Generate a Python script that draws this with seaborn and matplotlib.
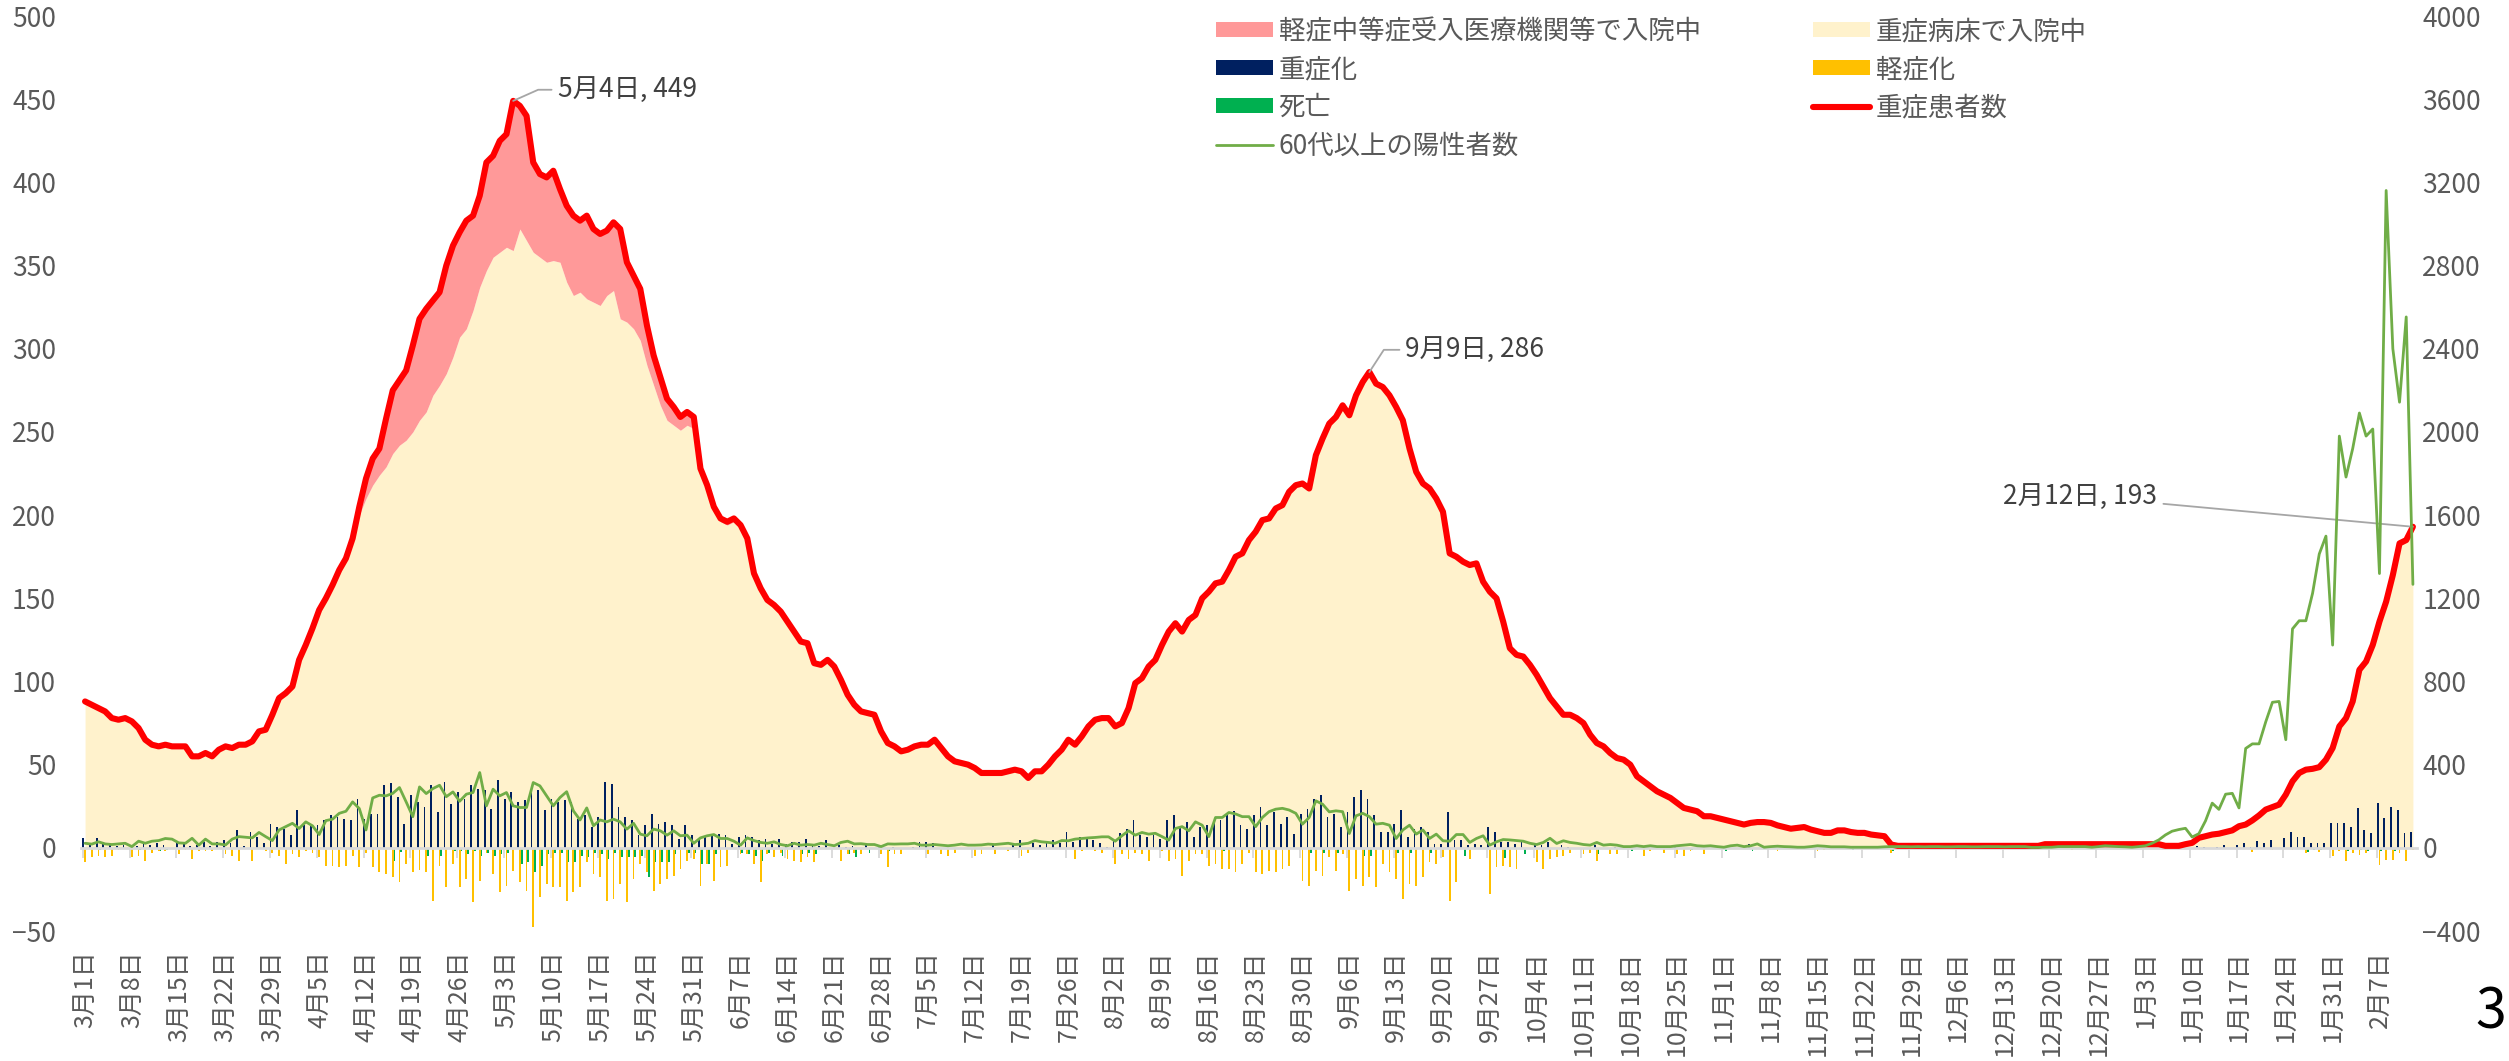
import numpy as np
import pandas as pd
import matplotlib
matplotlib.use("Agg")
import matplotlib.pyplot as plt
import seaborn as sns
from matplotlib.patches import Patch
from matplotlib.lines import Line2D

# ---- data (daily, 2021-03-01 .. 2022-02-12) ----
start_date = "2021-03-01"
end_date = "2022-02-12"

# 重症患者数 (total, left axis)
severe_total = [
    88, 86, 84, 82, 78, 77, 78, 76, 72, 65,
    62, 61, 62, 61, 61, 61, 55, 55, 57, 55,
    59, 61, 60, 62, 62, 64, 70, 71, 80, 90,
    93, 97, 113, 122, 132, 143, 150, 158, 167, 174,
    186, 205, 222, 234, 240, 258, 275, 281, 287, 302,
    318, 324, 329, 334, 350, 362, 370, 377, 380, 392,
    412, 416, 425, 429, 449, 446, 440, 412, 405, 403,
    407, 396, 386, 380, 377, 380, 372, 369, 371, 376,
    372, 352, 344, 336, 314, 296, 283, 270, 265, 259,
    262, 259, 228, 218, 205, 198, 196, 198, 194, 186,
    165, 156, 149, 146, 142, 136, 130, 124, 123, 111,
    110, 113, 109, 101, 92, 86, 82, 81, 80, 70,
    63, 61, 58, 59, 61, 62, 62, 65, 60, 55,
    52, 51, 50, 48, 45, 45, 45, 45, 46, 47,
    46, 42, 46, 46, 50, 55, 59, 65, 62, 67,
    73, 77, 78, 78, 73, 75, 84, 99, 102, 109,
    113, 122, 130, 135, 130, 137, 140, 150, 154, 159,
    160, 167, 175, 177, 185, 190, 197, 198, 204, 206,
    214, 218, 219, 216, 236, 246, 255, 259, 266, 260,
    272, 280, 286, 279, 277, 272, 265, 257, 240, 226,
    219, 216, 210, 202, 177, 175, 172, 170, 171, 160,
    154, 150, 136, 120, 116, 115, 110, 104, 97, 90,
    85, 80, 80, 78, 75, 68, 63, 61, 57, 54,
    53, 50, 43, 40, 37, 34, 32, 30, 27, 24,
    23, 22, 19, 19, 18, 17, 16, 15, 14, 15,
    15.5, 15.5, 15, 13.5, 12.5, 11.5, 12, 12.5, 11, 10,
    9, 9, 10.5, 10.5, 9.5, 9, 9, 8, 7.5, 7,
    2, 1.2, 1.2, 1.2, 1.2, 1.2, 1.2, 1.2, 1.2, 1.2,
    1.2, 1.2, 1.2, 1.2, 1.2, 1.2, 1.2, 1.2, 1.2, 1.2,
    1.2, 1.2, 1.2, 2.2, 2.2, 2.2, 2.2, 2.2, 2.2, 2.2,
    2.2, 2.2, 2.2, 2.2, 2.2, 2.2, 2.2, 2.2, 2.2, 2.2,
    2.2, 1.2, 1.2, 1.2, 2.2, 3, 6, 7, 8, 8.5,
    9.5, 10.5, 13, 14, 16.5, 19.5, 23, 24.5, 26, 32,
    40, 45, 47, 47.5, 48.5, 53, 60, 73, 78, 88,
    107, 112, 122, 136, 148, 164, 183, 185, 193,
]

# 軽症中等症受入医療機関等で入院中 (upper stacked area)
mild_ward = [
    0, 0, 0, 0, 0, 0, 0, 0, 0, 0,
    0, 0, 0, 0, 0, 0, 0, 0, 0, 0,
    0, 0, 0, 0, 0, 0, 0, 0, 0, 0,
    0, 0, 0, 0, 0, 0, 0, 0, 0, 0,
    0, 5, 12, 16, 16, 29, 38, 39, 42, 52,
    61, 62, 57, 56, 65, 67, 63, 65, 57, 55,
    65, 61, 67, 68, 90, 74, 75, 54, 50, 51,
    54, 44, 46, 48, 43, 50, 44, 43, 39, 41,
    54, 36, 32, 31, 24, 18, 17, 13, 11, 8,
    8, 7, 2, 2, 2, 2, 2, 2, 2, 2,
    1, 0, 0, 0, 0, 0, 0, 0, 0, 0,
    0, 0, 0, 0, 0, 0, 0, 0, 0, 0,
    0, 0, 0, 0, 0, 0, 0, 0, 0, 0,
    0, 0, 0, 0, 0, 0, 0, 0, 0, 0,
    0, 0, 0, 0, 0, 0, 0, 0, 0, 0,
    0, 0, 0, 0, 0, 0, 0, 0, 0, 0,
    0, 0, 0, 0, 0, 0, 0, 0, 0, 0,
    0, 0, 0, 0, 0, 0, 0, 0, 0, 0,
    0, 0, 0, 0, 0, 0, 0, 0, 0, 0,
    0, 0, 0, 0, 0, 0, 0, 0, 0, 0,
    0, 0, 0, 0, 0, 0, 0, 0, 0, 0,
    0, 0, 0, 0, 0, 0, 0, 0, 0, 0,
    0, 0, 0, 0, 0, 0, 0, 0, 0, 0,
    0, 0, 0, 0, 0, 0, 0, 0, 0, 0,
    0, 0, 0, 0, 0, 0, 0, 0, 0, 0,
    0, 0, 0, 0, 0, 0, 0, 0, 0, 0,
    0, 0, 0, 0, 0, 0, 0, 0, 0, 0,
    1.2, 1.2, 1.2, 1.2, 1.2, 1.2, 1.2, 1.2, 1.2, 1.2,
    1.2, 1.2, 1.2, 1.2, 1.2, 1.2, 1.2, 1.2, 1.2, 1.2,
    1.2, 1.2, 1.2, 1.2, 1.2, 1.2, 1.2, 1.2, 1.2, 1.2,
    1.2, 1.2, 1.2, 1.2, 1.2, 1.2, 1.2, 1.2, 1.2, 1.2,
    1.2, 1.2, 1.2, 1.2, 1.2, 0, 0, 0, 0, 0,
    0, 0, 0, 0, 0, 0, 0, 0, 0, 0,
    0, 0, 0, 0, 0, 0, 0, 0, 0, 0,
    0, 0, 0, 0, 0, 0, 0, 0, 0,
]

# 重症化 (bars up)
became_severe = [
    6, 1.6, 6, 3.6, 1.6, 1, 1.6, 0, 1, 3,
    1.6, 3, 1.6, 0, 3.6, 3, 1, 1.6, 3.6, 1,
    3.6, 4.6, 3, 10.6, 1, 9.8, 6.8, 3, 14.6, 12.8,
    11.6, 7.8, 22.8, 13.6, 14.6, 13.6, 16.6, 19.6, 18.8, 17.6,
    16.8, 29.6, 17.6, 20.6, 20.6, 37.6, 38.8, 30.6, 14.6, 31.6,
    27.6, 24.6, 37.6, 21.6, 39.6, 26.6, 33.6, 29.6, 37.6, 35.6,
    34.6, 23.6, 40.6, 29.6, 33.6, 27.6, 28.6, 35, 34.6, 22.6,
    29.6, 27.6, 28.6, 27.6, 17.6, 19.6, 12.6, 18.6, 39.6, 38.6,
    24.6, 18.6, 16.6, 7.6, 13.6, 20.6, 14.6, 15.6, 13.6, 5.6,
    13.6, 7.6, 4.6, 6.6, 7.6, 8.6, 7.6, 2.6, 6.6, 7.6,
    6.6, 4.6, 5.6, 2.6, 5.6, 2.6, 3.6, 3.6, 5.6, 1.6,
    1, 4.6, 0, 1.6, 0.8, 1, 0, 1.6, 0, 0.8,
    0, 0.8, 0, 0, 0.8, 3.8, 3.8, 2.8, 0, 0,
    0, 0, 0, 0, 0, 0, 1.6, 0, 0, 1.6,
    4.8, 0, 3.2, 1.6, 3.6, 4.8, 3.2, 9.8, 3.6, 6.8,
    5.6, 4.8, 2.8, 0.8, 5.6, 8.8, 11.6, 16.8, 7.6, 6.8,
    7.6, 5.6, 16.8, 19.6, 12.8, 15.6, 6.8, 12.8, 13.6, 14.8,
    16.8, 19.6, 22, 13.6, 11.6, 19.6, 24.6, 13.6, 21.6, 14.6,
    18.6, 8.6, 20.6, 23.6, 29.6, 31.6, 18.6, 20.6, 12.8, 21.6,
    30.6, 34.6, 29.6, 19.6, 9.6, 9.6, 14.6, 22.6, 6.6, 11.6,
    12.6, 9.6, 2.6, 2.6, 21.6, 4.6, 4.6, 1.6, 2.6, 1.6,
    12.6, 9.6, 3.6, 3.6, 2.6, 4.6, 0, 2.6, 1.6, 3.6,
    0, 1.6, 0.8, 0, 0, 0, 1.6, 0, 0, 0.8,
    0, 0, 0, 0, 0, 0, 0, 0, 1.6, 0,
    0, 0, 0, 0, 0, 0, 0, 0, 0, 2.6,
    0, 0, 0, 0, 0, 0, 0, 0, 0, 0,
    0, 0, 0, 0, 0, 0, 0, 0, 0, 0,
    0, 0, 0, 0, 0, 0, 0, 0, 0, 0,
    0, 0, 0, 0, 0, 0, 0, 0, 0, 0,
    0, 0, 0, 0, 0, 0, 0, 0, 0, 0,
    0, 0, 0, 0, 0, 0, 0, 0, 0, 0,
    0, 0, 0, 0, 0, 0, 1.2, 0.8, 0, 0.8,
    2, 0, 2, 2.8, 0.8, 4, 2.8, 4.8, 0, 5.8,
    9.8, 6.8, 6.8, 2.8, 2.8, 2.8, 14.8, 14.8, 14.8, 12.8,
    23.8, 10.8, 8.8, 26.8, 17.8, 24.8, 22.8, 8.8, 9.8,
]

# 軽症化 (bars down)
became_mild = [
    -8.8, -5.8, -4.8, -5.8, -4.8, -1.2, 0, -5.8, -5.2, -8,
    -2.8, -1.8, -1.8, 0, -3.8, -1.2, -6.8, -1.8, -1.8, -1.8,
    -0.8, -3.8, -4.8, -8, -0.8, -8, 0, -1.8, -2.8, -4.8,
    -10, -3.8, -5.8, -1.8, -2.8, -5.8, -10.8, -11.2, -11.8, -10.8,
    -4.8, -11.8, -2.8, -11.8, -14.8, -15.8, -17.8, -20.8, -10, -14.8,
    -13.2, -14.8, -31.8, -10.8, -23.8, -10, -23.8, -18.8, -32.8, -19.8,
    -3, -15.8, -26.8, -22.8, -13.8, -20.8, -25.8, -47.8, -29.8, -21.8,
    -23.8, -23.8, -31.8, -26.8, -23.8, -8.8, -15.8, -17.8, -31.8, -30.8,
    -21.8, -32.8, -18.8, -9.8, -14.8, -25.8, -21.8, -18.8, -16.8, -12.8,
    -7.8, -6.8, -22.8, -9.8, -19.8, -11.8, -10.8, 0, -3.8, -3.8,
    -9.8, -20.8, -3.8, -5.8, -2.8, -6.8, -7.8, -8.8, -5.8, -8.8,
    0, 0, 0, -7.8, -3.8, -2.8, -3.8, 0, 0, -3.8,
    -11.8, -3.8, -3.8, 0, 0, 0, -3.8, 0, -3.8, -4.8,
    -2.8, 0, 0, -4.8, -3.8, 0, -3.8, 0, -1.8, 0,
    -4.8, -2.8, -0.8, 0, 0, 0, 0, 0, -6.8, -1.8,
    0, -1.8, -2.8, 0, -9.8, -3.8, -6.8, -2.8, -3.8, -7.8,
    0, -1.8, -7.8, -6.8, -16.8, -7.8, -3.8, -3.8, -10.8, -9.8,
    -12.8, -12.8, -14.4, -9.8, -2.8, -14.8, -15.8, -13.8, -14.8, -12.8,
    -10.8, 0, -19.8, -22.8, -13.8, -16.8, -5.8, -13.8, -3.8, -25.8,
    -18.8, -22.8, -17.8, -23.8, -9.8, -14.8, -18.8, -30.8, -21.8, -22.8,
    -17.8, -8.8, -9.8, -5.8, -31.8, -20.8, 0, -6.8, 0, 0,
    -27.8, -11.8, -10.8, -11.8, -12.8, 0, 0, -8.8, -12.8, -6.8,
    -5.8, -4.8, -2.8, 0, -3.8, -2.8, -7.8, 0, -3.8, -3.8,
    0, 0, 0, -4.8, -1.8, 0, -2.8, 0, -3.8, -5.2,
    -1.8, 0, -3.8, 0, 0, 0, -0.8, 0, 0, 0,
    0, 0, 0, -1.8, 0, 0, 0, 0, 0, -1.8,
    -1.2, 0, 0, 0, 0, 0, 0, 0, 0, 0,
    -2.8, 0, 0, 0, 0, 0, 0, 0, 0, 0,
    0, 0, 0, 0, 0, 0, 0, 0, 0, 0,
    0, 0, 0, 0, 0, 0, 0, -1, 0, 0,
    0, 0, 0, 0, 0, 0, 0, 0, 0, 0,
    0, 0, 0, 0, 0, 0, 0, 0, 0, 0,
    0, 0, 0, 0, -2.2, 0, 0, -1, 0, 0,
    -1, 0, -3.2, 0, -2.2, 0, -5.2, -1.8, -8.2, -3.2,
    -4.2, -3.2, 0, -10.2, -7.2, -7.2, -3.2, -8.2, -1.2,
]

# 死亡 (bars down)
deaths = [
    0, 0, -1.2, 0, 0, 0, 0, 0, -1, 0,
    0, -1.6, -1.2, 0, 0, 0, 0, 0, 0, 0,
    0, -0.6, 0, 0, 0, 0, 0, 0, 0, 0,
    0, 0, 0, 0, 0, 0, 0, 0, 0, 0,
    0, 0, 0, 0, 0, 0, -7.8, -2.5, 0, 0,
    0, -4.8, 0, -5, 0, -2, -2, -4, -1.8, -4.8,
    -2.8, -4.8, -3.8, -2.8, 0, -9.8, -8.8, -14.8, -10.8, -3.8,
    -2.8, -2.8, -8.8, -8.8, -4.8, -5.8, -2.8, -3.8, -6.8, -2.8,
    -5.8, -5.8, -5.8, -4.8, -17.8, -8.8, -8.8, -8.8, -3.8, 0,
    -2.8, -2.8, -9.8, -9.8, -3.8, 0, 0, 0, -2.8, -3.8,
    -4.8, -7.8, -2.8, 0, -4.8, 0, 0, -3.8, -2.8, -3.8,
    0, 0, 0, 0, -3.8, -5.8, 0, -2.8, 0, 0,
    -2, 0, 0, 0, 0, 0, 0, 0, 0, 0,
    0, 0, 0, 0, 0, 0, 0, 0, 0, 0,
    0, 0, 0, 0, 0, 0, 0, 0, 0, 0,
    0, 0, 0, 0, 0, 0, 0, 0, 0, 0,
    0, 0, -1, 0, 0, 0, 0, 0, 0, 0,
    -2, 0, 0, 0, 0, 0, 0, 0, 0, 0,
    0, 0, 0, -2.8, 0, -3, 0, -2.8, 0, 0,
    0, -4.8, -4.8, 0, 0, 0, -2.8, 0, -2.8, 0,
    0, -2.8, 0, 0, 0, 0, -4.8, 0, 0, 0,
    0, 0, -6, 0, 0, -4, 0, 0, 0, 0,
    0, 0, 0, 0, 0, 0, -4, 0, 0, 0,
    0, -2, 0, 0, 0, -0.6, 0, 0, 0, 0,
    -1.5, 0, 0, 0, 0, -1.6, 0, 0, 0, -1.8,
    0, 0, 0, 0, -0.6, 0, 0, 0, 0, 0,
    0, 0, 0, 0, -1, 0, 0, 0, 0, 0,
    -1.6, 0, 0, 0, 0, 0, 0, 0, 0, 0,
    0, 0, 0, 0, 0, 0, 0, 0, 0, 0,
    0, 0, 0, 0, 0, 0, 0, 0, 0, 0,
    0, 0, 0, 0, 0, 0, 0, 0, 0, 0,
    0, 0, 0, 0, 0, 0, 0, 0, 0, 0,
    0, 0, 0, 0, 0, 0, 0, 0, 0, 0,
    0, 0, -2.2, -1, -1, 0, 0, 0, -1.8, 0,
    -1.2, -1.8, 0, -1.8, 0, -1.8, -0.8, 0, 0,
]

# 60代以上の陽性者数 (right axis)
positives_60plus = [
    22, 18, 29, 19, 16, 19, 22, 6, 32, 22,
    32, 35, 45, 42, 24, 22, 46, 13, 42, 19,
    19, 14, 42, 54, 51, 48, 74, 54, 35, 86,
    102, 118, 93, 125, 106, 64, 131, 138, 166, 176,
    221, 189, 86, 240, 253, 250, 262, 290, 221, 150,
    293, 261, 285, 301, 246, 269, 224, 258, 266, 362,
    202, 282, 250, 266, 202, 194, 194, 314, 298, 250,
    202, 242, 270, 178, 134, 192, 106, 134, 125, 138,
    125, 90, 118, 66, 58, 90, 82, 61, 82, 58,
    61, 22, 48, 58, 64, 45, 45, 32, 13, 48,
    35, 26, 22, 29, 16, 10, 22, 13, 16, 13,
    22, 16, 10, 26, 32, 19, 20, 16, 16, 6,
    19, 18, 19, 19, 22, 13, 13, 16, 13, 10,
    13, 18, 13, 13, 14, 18, 16, 19, 22, 16,
    18, 22, 35, 29, 26, 22, 35, 34, 42, 45,
    48, 50, 53, 53, 32, 58, 82, 61, 74, 66,
    70, 54, 37, 93, 102, 82, 125, 109, 54, 146,
    146, 170, 163, 150, 150, 102, 146, 174, 186, 190,
    182, 166, 114, 146, 226, 210, 173, 178, 174, 69,
    154, 166, 150, 114, 118, 109, 45, 86, 109, 66,
    86, 45, 66, 34, 32, 64, 64, 26, 45, 58,
    13, 29, 40, 38, 35, 32, 22, 16, 26, 46,
    21, 34, 26, 22, 16, 13, 26, 13, 16, 13,
    6, 6, 10, 6, 10, 6, 6, 6, 10, 13,
    16, 10, 8, 10, 6, 3, 10, 13, 6, 10,
    19, 3, 6, 8, 6, 5, 3, 3, 6, 10,
    8, 5, 5, 5, 3, 3, 3, 3, 3, 5,
    6, 6, 6, 5, 6, 5, 6, 6, 5, 5,
    6, 6, 5, 5, 6, 6, 6, 5, 6, 6,
    6, 2, 2, 3, 3, 6, 6, 6, 6, 6,
    3, 6, 10, 8, 6, 5, 3, 6, 10, 22,
    38, 62, 80, 88, 94, 52, 68, 130, 215, 185,
    258, 262, 192, 478, 500, 500, 606, 700, 704, 520,
    1053, 1092, 1092, 1224, 1413, 1499, 975, 1980, 1783, 1920,
    2091, 1980, 2014, 1319, 3161, 2400, 2143, 2553, 1267,
]

left_ticks = list(range(-50, 501, 50))
right_ticks = list(range(-400, 4001, 400))

C_PINK = "#FF9999"
C_BEIGE = "#FFF2CC"
C_NAVY = "#002060"
C_YELLOW = "#FFC000"
C_GREEN = "#00B050"
C_RED = "#FF0000"
C_GLINE = "#70AD47"
C_TEXT = "#595959"

days = pd.date_range(start_date, end_date, freq="D")
n = len(days)
for name, arr in [("severe_total", severe_total), ("mild_ward", mild_ward),
                  ("became_severe", became_severe), ("became_mild", became_mild),
                  ("deaths", deaths), ("positives_60plus", positives_60plus)]:
    if len(arr) != n:
        raise ValueError(f"{name}: {len(arr)} != {n}")

idx = np.arange(n)
total = np.array(severe_total, dtype=float)
upper = np.array(mild_ward, dtype=float)
icu = total - upper  # 重症病床で入院中

sns.set_theme(style="white")
plt.rcParams["font.family"] = ["Noto Sans CJK JP", "DejaVu Sans"]

fig = plt.figure(figsize=(25.09, 10.61), dpi=100)
ax = fig.add_axes([0.0323, 0.1225, 0.931, 0.8624])
ax2 = ax.twinx()

# stacked areas
ax.fill_between(idx, 0, icu, color=C_BEIGE, lw=0, zorder=1)
ax.fill_between(idx, icu, total, color=C_PINK, lw=0, zorder=1)

# clustered bars
bars = pd.DataFrame({
    "day": np.concatenate([idx, idx, idx]),
    "value": np.concatenate([became_severe, became_mild, deaths]),
    "series": ["重症化"] * n + ["軽症化"] * n + ["死亡"] * n,
})
sns.barplot(data=bars, x="day", y="value", hue="series",
            hue_order=["重症化", "軽症化", "死亡"],
            palette=[C_NAVY, C_YELLOW, C_GREEN],
            native_scale=True, dodge=True, width=0.8, saturation=1,
            errorbar=None, linewidth=0, legend=False, ax=ax, zorder=2)

sns.lineplot(x=idx, y=total, ax=ax, color=C_RED, lw=4.4, zorder=4,
             solid_joinstyle="round", solid_capstyle="round")
sns.lineplot(x=idx, y=positives_60plus, ax=ax2, color=C_GLINE, lw=2,
             solid_joinstyle="round")

ax.set_xlim(-0.6, n - 0.4)
ax.set_ylim(-50, 500)
ax2.set_ylim(-400, 4000)
ax.set_yticks(left_ticks)
ax2.set_yticks(right_ticks)
ax.set_xlabel("")
ax.set_ylabel("")
ax2.set_ylabel("")

week = idx[::7]
ax.set_xticks(week)
ax.set_xticklabels([f"{d.month}月{d.day}日" for d in days[::7]], rotation=90)
ax.tick_params(axis="x", length=0, pad=14, labelsize=18, labelcolor=C_TEXT)
ax.tick_params(axis="y", length=0, pad=18, labelsize=19, labelcolor=C_TEXT)
ax2.tick_params(axis="y", length=0, pad=4, labelsize=19, labelcolor=C_TEXT)

for a in (ax, ax2):
    for s in a.spines.values():
        s.set_visible(False)

# zero axis line with weekly tick marks
zero_ax = ax.secondary_xaxis(0, transform=ax.transData)
zero_ax.set_xticks(week - 0.35)
zero_ax.tick_params(axis="x", length=7, width=1.3, color="#D9D9D9",
                    labelbottom=False, direction="out")
zero_ax.spines["bottom"].set_color("#D9D9D9")
zero_ax.spines["bottom"].set_linewidth(2)
zero_ax.set_zorder(3)

# data labels
i1 = int(np.argmax(total[:150]))
i2 = 150 + int(np.argmax(total[150:260]))
i3 = n - 1
lead = dict(arrowstyle="-", color="#A6A6A6", lw=1.3, shrinkA=2, shrinkB=0)
for i, off, ha, cs in [(i1, (32, 8), "left", "angle,angleA=0,angleB=24,rad=0"),
                       (i2, (26, 16), "left", "angle,angleA=0,angleB=57,rad=0"),
                       (i3, (-184, 22), "right", "arc3")]:
    ax.annotate(f"{days[i].month}月{days[i].day}日, {total[i]:g}",
                xy=(i, total[i]), xytext=off, textcoords="offset points",
                ha=ha, va="center", fontsize=19, color="#404040",
                arrowprops=dict(lead, connectionstyle=cs), zorder=6)

# legends (two columns as in original)
h_pink = Patch(facecolor=C_PINK, edgecolor="none")
h_beige = Patch(facecolor=C_BEIGE, edgecolor="none")
h_navy = Patch(facecolor=C_NAVY, edgecolor="none")
h_yel = Patch(facecolor=C_YELLOW, edgecolor="none")
h_grn = Patch(facecolor=C_GREEN, edgecolor="none")
h_red = Line2D([], [], color=C_RED, lw=4.4, solid_capstyle="round")
h_gl = Line2D([], [], color=C_GLINE, lw=2)

leg_kw = dict(loc="upper left", frameon=False, borderpad=0, borderaxespad=0,
              handlelength=2.15, handleheight=0.5, handletextpad=0.22,
              labelspacing=0.42, fontsize=19, labelcolor=C_TEXT)
fig.legend([h_pink, h_navy, h_grn, h_gl],
           ["軽症中等症受入医療機関等で入院中", "重症化", "死亡", "60代以上の陽性者数"],
           bbox_to_anchor=(0.4847, 0.983), **leg_kw)
fig.legend([h_beige, h_yel, h_red],
           ["重症病床で入院中", "軽症化", "重症患者数"],
           bbox_to_anchor=(0.7226, 0.983), **leg_kw)

fig.text(0.999, 0.018, "3", ha="right", va="bottom", fontsize=40, color="black")

fig.savefig("out.png", dpi=100)
